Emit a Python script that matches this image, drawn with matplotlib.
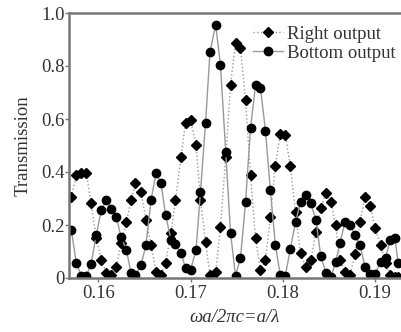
import matplotlib
matplotlib.use("Agg")
import matplotlib.pyplot as plt

# normalized frequency grid shared by both outputs
freq = [0.15707, 0.15761, 0.15816, 0.15870, 0.15921, 0.15978, 0.16033, 0.16087,
        0.16141, 0.16195, 0.16246, 0.16304, 0.16355, 0.16403, 0.16463, 0.16517,
        0.16572, 0.16626, 0.16680, 0.16729, 0.16789, 0.16837, 0.16897, 0.16946,
        0.17000, 0.17060, 0.17108, 0.17163, 0.17211, 0.17273, 0.17325, 0.17382,
        0.17434, 0.17488, 0.17542, 0.17597, 0.17651, 0.17705, 0.17759, 0.17813,
        0.17866, 0.17920, 0.17974, 0.18028, 0.18082, 0.18139, 0.18193, 0.18249,
        0.18304, 0.18361, 0.18412, 0.18470, 0.18524, 0.18573, 0.18621, 0.18676,
        0.18730, 0.18784, 0.18838, 0.18893, 0.18952, 0.19001, 0.19061, 0.19115,
        0.19164, 0.19218, 0.19251]

right_out = [0.306, 0.389, 0.396, 0.396, 0.283, 0.151, 0.068, 0.019,
             0.011, 0.042, 0.132, 0.211, 0.294, 0.358, 0.325, 0.219,
             0.125, 0.023, 0.011, 0.057, 0.170, 0.294, 0.457, 0.585,
             0.596, 0.502, 0.294, 0.136, 0.011, 0.023, 0.192, 0.457,
             0.728, 0.887, 0.868, 0.672, 0.389, 0.151, 0.030, 0.068,
             0.230, 0.423, 0.543, 0.540, 0.423, 0.249, 0.094, 0.042,
             0.068, 0.174, 0.264, 0.321, 0.287, 0.200, 0.068, 0.023,
             0.011, 0.091, 0.211, 0.306, 0.272, 0.189, 0.125, 0.057,
             0.011, 0.004, 0.004]

bottom_out = [0.181, 0.057, 0.008, 0.008, 0.053, 0.162, 0.257, 0.294,
              0.260, 0.230, 0.155, 0.106, 0.019, 0.011, 0.049, 0.125,
              0.294, 0.396, 0.358, 0.238, 0.143, 0.128, 0.094, 0.038,
              0.030, 0.106, 0.325, 0.585, 0.853, 0.955, 0.804, 0.475,
              0.170, 0.008, 0.075, 0.287, 0.566, 0.728, 0.717, 0.555,
              0.332, 0.125, 0.011, 0.008, 0.109, 0.211, 0.287, 0.313,
              0.283, 0.219, 0.083, 0.019, 0.004, 0.060, 0.132, 0.211,
              0.200, 0.162, 0.125, 0.042, 0.015, 0.015, 0.060, 0.075,
              0.143, 0.151, 0.057]

xticks = [0.16, 0.17, 0.18, 0.19]
yticks = [0, 0.2, 0.4, 0.6, 0.8, 1.0]
ytick_labels = ["0", "0.2", "0.4", "0.6", "0.8", "1.0"]

plt.rcParams["font.family"] = ["Liberation Serif", "DejaVu Serif"]
fs = 13.5

fig = plt.figure(figsize=(4.01, 3.32), dpi=100)
ax = fig.add_axes([69 / 401, 54 / 332, 332 / 401, 265 / 332])

ax.plot(freq, right_out, linestyle=":", color="#999999", linewidth=1.0,
        marker="D", markersize=5.5, markerfacecolor="black",
        markeredgecolor="black", label="Right output")
ax.plot(freq, bottom_out, linestyle="-", color="#999999", linewidth=1.0,
        marker="o", markersize=6, markerfacecolor="black",
        markeredgecolor="black", label="Bottom output")

ax.set_xlim(0.15682, 0.19283)
ax.set_ylim(0, 1.0)
ax.set_xticks(xticks)
ax.set_xticklabels([f"{t:.2f}" for t in xticks])
ax.set_yticks(yticks)
ax.set_yticklabels(ytick_labels)

for side in ("left", "bottom", "top"):
    ax.spines[side].set_color("#777777")
    ax.spines[side].set_linewidth(1.8)
ax.spines["right"].set_visible(False)

ax.tick_params(axis="both", labelsize=fs, colors="#777777", labelcolor="#333333",
               length=3, width=1, pad=2)
ax.tick_params(axis="y", pad=0)

ax.set_ylabel("Transmission", fontsize=fs, color="#333333", labelpad=7)
ax.set_xlabel("ωa/2πc=a/λ", fontsize=fs, color="#333333", style="italic",
              labelpad=5)

ax.legend(loc="upper left", bbox_to_anchor=(0.554, 0.952), frameon=False,
          fontsize=fs, handlelength=1.6, handletextpad=0.2, labelspacing=0.1,
          borderpad=0, borderaxespad=0, labelcolor="#333333")

fig.savefig("out.png", dpi=100)
